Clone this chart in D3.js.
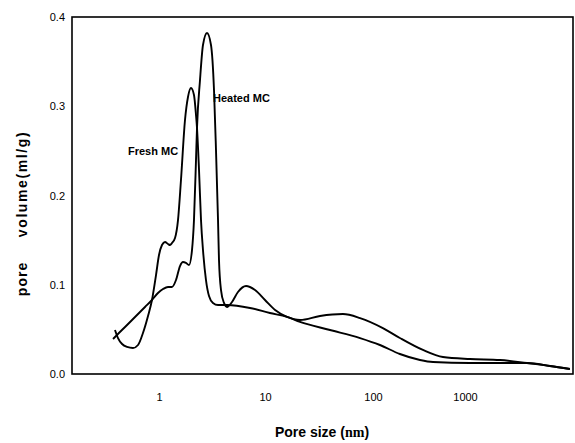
<!DOCTYPE html>
<html>
<head>
<meta charset="utf-8">
<script src="https://cdn.jsdelivr.net/npm/d3@7"></script>
<style>
  body { margin: 0; background: #fff; }
  text { font-family: "Liberation Sans", Arial, sans-serif; fill: #000; }
</style>
</head>
<body>
<div id="chart"></div>
<script>
// pore size (nm) / pore volume (ml/g)
const freshSize = [0.383, 0.409, 0.447, 0.498, 0.567, 0.633, 0.705, 0.787, 0.858, 0.937,
  1.0, 1.067, 1.139, 1.216, 1.27, 1.326, 1.416, 1.511, 1.612, 1.759, 1.877, 2.004, 2.138,
  2.234, 2.283, 2.385, 2.49, 2.6, 2.775, 2.963, 3.23, 3.604, 4.381, 7.22, 11.1, 16.0, 21.1,
  40.0, 75.9, 119, 196, 324, 449, 1126, 2296, 4355, 7516, 12080];
const freshVol = [0.0493, 0.0403, 0.0336, 0.0303, 0.0291, 0.0325, 0.0459, 0.065, 0.0829, 0.1109,
  0.1333, 0.1445, 0.1479, 0.1457, 0.1445, 0.1468, 0.1524, 0.1725, 0.2174, 0.2846, 0.3104, 0.3204, 0.3126,
  0.2902, 0.2756, 0.2286, 0.1725, 0.1389, 0.1053, 0.0874, 0.0796, 0.0773, 0.0773, 0.074, 0.0683, 0.0639, 0.0583,
  0.0493, 0.0403, 0.0325, 0.0224, 0.0157, 0.0134, 0.0123, 0.0123, 0.0123, 0.009, 0.0056];

const heatedSize = [0.367, 0.4, 0.477, 0.593, 0.737, 0.858, 0.978, 1.091, 1.216, 1.326, 1.447,
  1.578, 1.684, 1.797, 1.919, 2.048, 2.138, 2.234, 2.283, 2.437, 2.6, 2.837, 3.094, 3.303, 3.449,
  3.604, 3.681, 3.846, 4.104, 4.381, 4.885, 5.56, 6.62, 8.05, 10, 12.4, 16.0, 21.1, 32.3, 52.7,
  75.9, 128, 196, 349, 576, 1126, 2296, 4355, 7516, 12080];
const heatedVol = [0.0392, 0.0437, 0.0527, 0.0639, 0.0751, 0.0829, 0.0908, 0.0952, 0.0975, 0.0975, 0.1053,
  0.121, 0.1255, 0.1244, 0.1221, 0.1389, 0.1725, 0.2398, 0.2756, 0.3294, 0.3686, 0.3821, 0.3686, 0.3182, 0.251,
  0.1725, 0.1277, 0.0941, 0.0796, 0.0751, 0.0807, 0.0919, 0.0986, 0.0941, 0.0829, 0.0717, 0.0639, 0.0605, 0.065, 0.0672,
  0.0627, 0.0515, 0.0403, 0.0269, 0.019, 0.0168, 0.0157, 0.0123, 0.009, 0.0056];

const xTicks = [1, 10, 100, 1000];
const yTicks = [0.0, 0.1, 0.2, 0.3, 0.4];

const svgWidth = 575, svgHeight = 443;
const margin = {left: 72, right: 573, top: 17, bottom: 374};

const svg = d3.select("#chart").append("svg")
  .attr("width", svgWidth)
  .attr("height", svgHeight);

// the scanned axis has uneven decades, so the log scale is piecewise
const x = d3.scaleLog()
  .domain([0.15, 1, 10, 100, 1000, 13000])
  .range([margin.left, 159, 265, 373, 465, margin.right]);
const y = d3.scaleLinear().domain([0, 0.4]).range([margin.bottom, margin.top]);

// frame
svg.append("rect")
  .attr("x", margin.left).attr("y", margin.top)
  .attr("width", margin.right - margin.left).attr("height", margin.bottom - margin.top)
  .attr("fill", "none").attr("stroke", "#000").attr("stroke-width", 1.6);

const xAxis = svg.append("g")
  .attr("transform", "translate(0," + margin.bottom + ")")
  .call(d3.axisBottom(x).tickValues(xTicks).tickFormat(d3.format("d")).tickSize(0).tickPadding(19));
xAxis.select(".domain").remove();
xAxis.selectAll("text").style("font-size", "11px").attr("font-family", null);

const yAxis = svg.append("g")
  .attr("transform", "translate(" + margin.left + ",0)")
  .call(d3.axisLeft(y).tickValues(yTicks).tickFormat(d3.format(".1f")).tickSize(0).tickPadding(7));
yAxis.select(".domain").remove();
yAxis.selectAll("text").style("font-size", "11px").attr("font-family", null);

const line = d3.line()
  .x(d => x(d[0]))
  .y(d => y(d[1]))
  .curve(d3.curveMonotoneX);

[[freshSize, freshVol], [heatedSize, heatedVol]].forEach(([s, v]) => {
  svg.append("path")
    .datum(d3.zip(s, v))
    .attr("d", line)
    .attr("fill", "none")
    .attr("stroke", "#000")
    .attr("stroke-width", 1.9);
});

// curve labels
svg.append("text").attr("x", 128).attr("y", 155)
  .style("font-size", "11px").style("font-weight", "bold").text("Fresh MC");
svg.append("text").attr("x", 213).attr("y", 102)
  .style("font-size", "11px").style("font-weight", "bold").text("Heated MC");

// axis titles (the y title has a wide gap between the two words)
svg.append("text")
  .attr("transform", "translate(27,279) rotate(-90)")
  .attr("text-anchor", "middle")
  .style("font-size", "14px").style("font-weight", "bold")
  .style("letter-spacing", "1px")
  .text("pore");
svg.append("text")
  .attr("transform", "translate(27,184) rotate(-90)")
  .attr("text-anchor", "middle")
  .style("font-size", "14px").style("font-weight", "bold")
  .style("letter-spacing", "1.6px")
  .text("volume(ml/g)");

const xt = svg.append("text")
  .attr("x", 322).attr("y", 437)
  .attr("text-anchor", "middle")
  .style("font-size", "14px").style("font-weight", "bold");
xt.append("tspan").text("Pore size (");
xt.append("tspan").style("font-family", "'Liberation Serif', serif").text("nm");
xt.append("tspan").text(")");
</script>
</body>
</html>
